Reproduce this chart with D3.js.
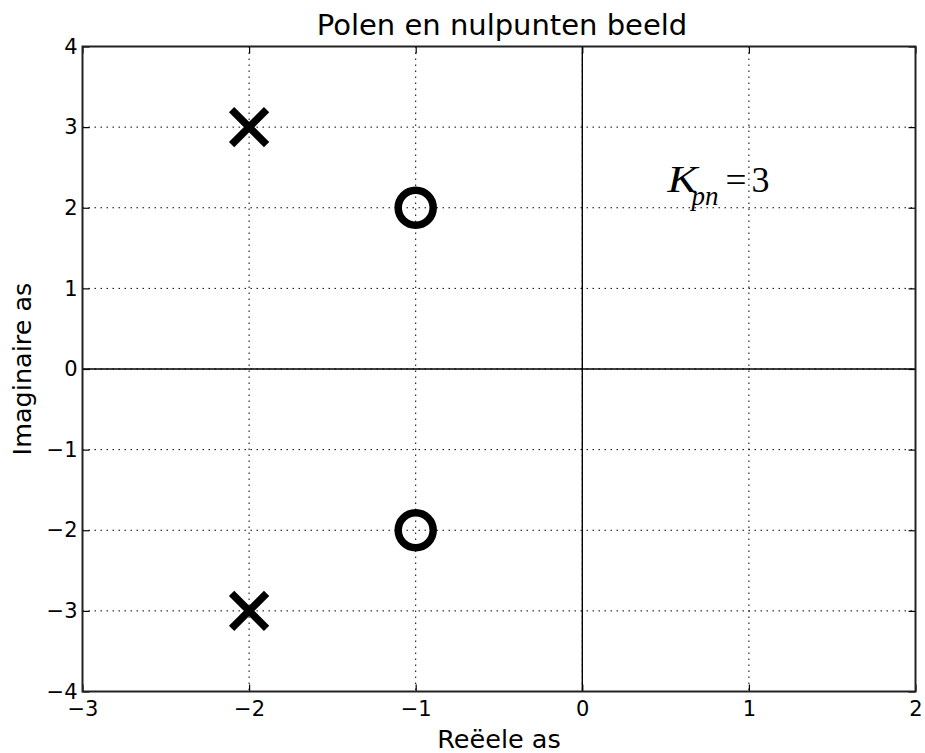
<!DOCTYPE html>
<html><head><meta charset="utf-8">
<script src="https://cdn.jsdelivr.net/npm/d3@7"></script>
<style>body{margin:0;background:#fff}</style>
</head><body>
<svg id="c" width="925" height="753"></svg>
<script>
const title = "Polen en nulpunten beeld";
const xLabel = "Reëele as";
const yLabel = "Imaginaire as";
const xTicks = [-3, -2, -1, 0, 1, 2];
const yTicks = [-4, -3, -2, -1, 0, 1, 2, 3, 4];
const polesRe = [-2, -2];
const polesIm = [3, -3];
const zerosRe = [-1, -1];
const zerosIm = [2, -2];
const gainLabelPos = [0.5, 2.2];
const gainValue = "3";

const svg = d3.select("#c");
const m = {l: 82.5, r: 915.5, t: 46.5, b: 691.5};
const x = d3.scaleLinear().domain([-3, 2]).range([m.l, m.r]);
const y = d3.scaleLinear().domain([-4, 4]).range([m.b, m.t]);
const font = "DejaVu Sans, sans-serif";

// grid
const g = svg.append("g");
g.selectAll(".gx").data(xTicks).enter().append("line")
  .attr("x1", d => x(d)).attr("x2", d => x(d)).attr("y1", m.t).attr("y2", m.b)
  .attr("stroke", "#000").attr("stroke-width", 1).attr("stroke-dasharray", "1.5,4.5");
g.selectAll(".gy").data(yTicks).enter().append("line")
  .attr("y1", d => y(d)).attr("y2", d => y(d)).attr("x1", m.l).attr("x2", m.r)
  .attr("stroke", "#000").attr("stroke-width", 1).attr("stroke-dasharray", "1.5,4.5");

// zero axes
svg.append("line").attr("x1", x(0)).attr("x2", x(0)).attr("y1", m.t).attr("y2", m.b)
  .attr("stroke", "#000").attr("stroke-width", 1.4);
svg.append("line").attr("x1", m.l).attr("x2", m.r).attr("y1", y(0)).attr("y2", y(0))
  .attr("stroke", "#000").attr("stroke-width", 1.4);

// axes with inward ticks
const fmt = d => d < 0 ? "\u2212" + Math.abs(d) : String(d);
const xAxisB = d3.axisBottom(x).tickValues(xTicks).tickSizeInner(-7).tickSizeOuter(0).tickPadding(10).tickFormat(fmt);
const xAxisT = d3.axisTop(x).tickValues(xTicks).tickSizeInner(-7).tickSizeOuter(0).tickFormat("");
const yAxisL = d3.axisLeft(y).tickValues(yTicks).tickSizeInner(-7).tickSizeOuter(0).tickPadding(5).tickFormat(fmt);
const yAxisR = d3.axisRight(y).tickValues(yTicks).tickSizeInner(-7).tickSizeOuter(0).tickFormat("");

function style(sel) {
  sel.select(".domain").remove();
  sel.selectAll("line").attr("stroke", "#000").attr("stroke-width", 1.2);
  sel.selectAll("text").attr("font-family", font).attr("font-size", 21).attr("fill", "#000");
}
svg.append("g").attr("transform", `translate(0,${m.b})`).call(xAxisB).call(style);
svg.append("g").attr("transform", `translate(0,${m.t})`).call(xAxisT).call(style);
svg.append("g").attr("transform", `translate(${m.l},0)`).call(yAxisL).call(style);
svg.append("g").attr("transform", `translate(${m.r},0)`).call(yAxisR).call(style);

// frame
svg.append("rect").attr("x", m.l).attr("y", m.t).attr("width", m.r - m.l).attr("height", m.b - m.t)
  .attr("fill", "none").attr("stroke", "#222").attr("stroke-width", 2);

// poles (x markers)
const poles = polesRe.map((r, i) => [r, polesIm[i]]);
const s = 17.5;
const pg = svg.append("g");
poles.forEach(p => {
  const cx = x(p[0]), cy = y(p[1]);
  pg.append("path").attr("d", `M${cx - s},${cy - s}L${cx + s},${cy + s}M${cx - s},${cy + s}L${cx + s},${cy - s}`)
    .attr("stroke", "#000").attr("stroke-width", 7.5).attr("fill", "none");
});

// zeros (circles)
const zeros = zerosRe.map((r, i) => [r, zerosIm[i]]);
svg.append("g").selectAll("circle").data(zeros).enter().append("circle")
  .attr("cx", d => x(d[0])).attr("cy", d => y(d[1])).attr("r", 17.5)
  .attr("fill", "none").attr("stroke", "#000").attr("stroke-width", 7.5);

// gain label K_pn = 3
const gx = x(gainLabelPos[0]), gy = y(gainLabelPos[1]);
const serif = "Liberation Serif, DejaVu Serif, serif";
svg.append("text").attr("x", gx + 2).attr("y", gy).attr("font-family", serif).attr("font-style", "italic")
  .attr("font-size", 37).attr("textLength", 30).attr("lengthAdjust", "spacingAndGlyphs").text("K");
svg.append("text").attr("x", gx + 26).attr("y", gy + 13).attr("font-family", serif).attr("font-style", "italic")
  .attr("font-size", 27).text("pn");
svg.append("text").attr("x", gx + 60).attr("y", gy).attr("font-family", serif)
  .attr("font-size", 36).attr("textLength", 21).attr("lengthAdjust", "spacingAndGlyphs").text("=");
svg.append("text").attr("x", gx + 86).attr("y", gy).attr("font-family", serif)
  .attr("font-size", 36).text(gainValue);

// title & labels
svg.append("text").attr("x", (m.l + m.r) / 2 + 3).attr("y", 35).attr("text-anchor", "middle")
  .attr("font-family", font).attr("font-size", 29).text(title);
svg.append("text").attr("x", (m.l + m.r) / 2).attr("y", 748).attr("text-anchor", "middle")
  .attr("font-family", font).attr("font-size", 25.5).text(xLabel);
svg.append("text").attr("transform", `translate(31,${(m.t + m.b) / 2}) rotate(-90)`).attr("text-anchor", "middle")
  .attr("font-family", font).attr("font-size", 25.5).text(yLabel);
</script>
</body></html>
